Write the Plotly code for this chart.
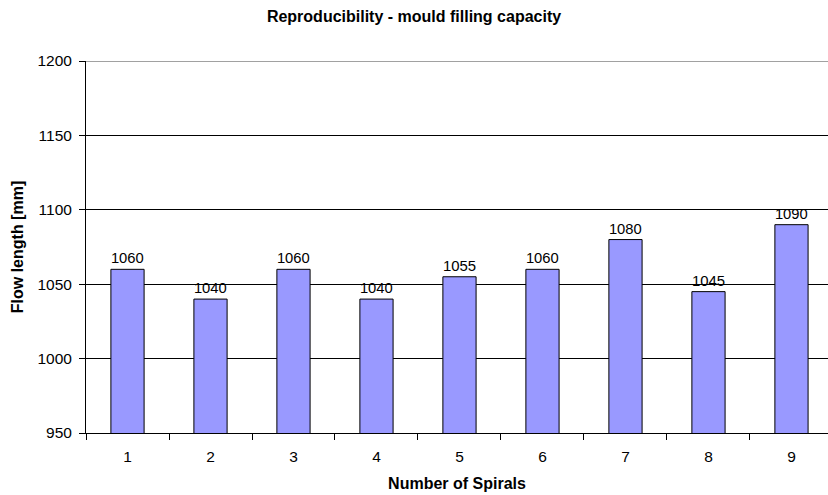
import plotly.graph_objects as go

categories = ["1", "2", "3", "4", "5", "6", "7", "8", "9"]
flow_length = [1060, 1040, 1060, 1040, 1055, 1060, 1080, 1045, 1090]
y_ticks = [950, 1000, 1050, 1100, 1150, 1200]

font_family = "Liberation Sans, Arial, sans-serif"

fig = go.Figure(
    go.Bar(
        x=categories,
        y=flow_length,
        marker=dict(color="#9999FF", line=dict(color="black", width=1)),
        text=[str(v) for v in flow_length],
        textposition="outside",
        cliponaxis=False,
        textfont=dict(family=font_family, size=15.5, color="black"),
        width=0.4,
    )
)

fig.add_shape(
    type="line", xref="paper", yref="y", x0=0, x1=1, y0=1200, y1=1200,
    line=dict(color="#444444", width=1),
)

fig.update_layout(
    width=828,
    height=495,
    margin=dict(l=86, r=0, t=61, b=62),
    paper_bgcolor="white",
    plot_bgcolor="white",
    font=dict(family=font_family, size=15.5, color="black"),
    title=dict(
        text="<b>Reproducibility - mould filling capacity</b>",
        x=0.5,
        xanchor="center",
        y=1 - 16 / 495,
        yanchor="middle",
        font=dict(family=font_family, size=16, color="black"),
    ),
    showlegend=False,
    xaxis=dict(
        type="category",
        range=[-0.5, 8.44],
        tickson="boundaries",
        ticks="outside",
        ticklen=6,
        tickcolor="black",
        showline=True,
        linecolor="black",
        linewidth=1,
        showgrid=False,
        tickfont=dict(size=15.5),
        ticklabelstandoff=9,
        title=dict(text="<b>Number of Spirals</b>", font=dict(size=16), standoff=14),
    ),
    yaxis=dict(
        range=[950, 1200],
        tickvals=y_ticks,
        ticks="outside",
        ticklen=6,
        tickcolor="black",
        showline=True,
        linecolor="black",
        linewidth=1,
        showgrid=True,
        gridcolor="black",
        gridwidth=1,
        zeroline=False,
        tickfont=dict(size=15.5),
        ticklabelstandoff=4,
        title=dict(text="<b>Flow length [mm]</b>", font=dict(size=16), standoff=9),
    ),
)

fig.write_html("out.html")
